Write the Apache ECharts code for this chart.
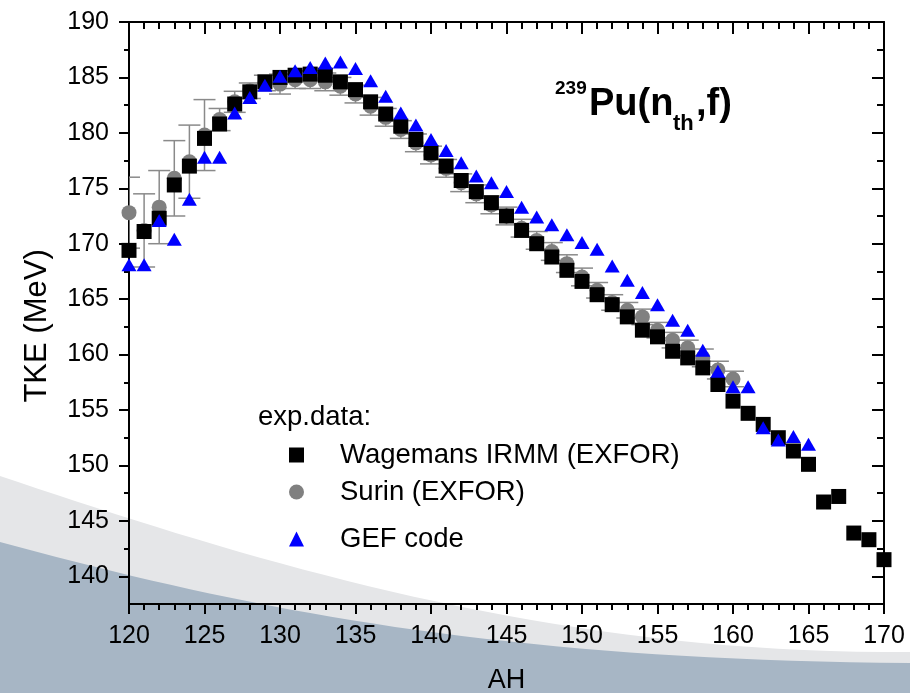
<!DOCTYPE html>
<html>
<head>
<meta charset="utf-8">
<script src="https://cdn.jsdelivr.net/npm/echarts@6/dist/echarts.min.js"></script>
<style>
html,body{margin:0;padding:0;background:#ffffff;}
#c{width:910px;height:693px;}
</style>
</head>
<body>
<div id="c"></div>
<script>
// ---- data ----
const AH = [120,121,122,123,124,125,126,127,128,129,130,131,132,133,134,135,136,137,138,139,140,
            141,142,143,144,145,146,147,148,149,150,151,152,153,154,155,156,157,158,159,160,
            161,162,163,164,165,166,167,168,169,170];

const wagemansTKE = [169.4,171.1,172.3,175.3,177.0,179.5,180.8,182.6,183.7,184.6,185.0,
                     185.2,185.3,185.2,184.6,183.9,182.8,181.7,180.6,179.4,178.2,
                     177.0,175.7,174.7,173.7,172.5,171.2,170.0,168.8,167.6,166.6,
                     165.4,164.5,163.4,162.2,161.6,160.3,159.7,158.8,157.3,155.8,
                     154.7,153.7,152.5,151.3,150.1,146.7,147.2,143.9,143.3,141.5];

const surinAH = [120,121,122,123,124,125,126,127,128,129,130,131,132,133,134,135,136,137,138,139,140,
                 141,142,143,144,145,146,147,148,149,150,151,152,153,154,155,156,157,158,159,160];
const surinTKE = [172.8,171.2,173.3,175.9,177.4,179.8,181.2,182.8,183.8,184.5,184.4,
                  184.8,184.8,184.6,184.2,183.5,182.4,181.4,180.3,179.1,178.0,
                  176.8,175.5,174.5,173.5,172.5,171.4,170.3,169.3,168.2,167.0,
                  165.8,164.7,164.0,163.4,162.2,161.3,160.6,159.7,158.6,157.8];
const surinErr = [3.2,3.3,3.3,3.4,3.3,3.2,1.0,0.95,0.7,0.7,0.9,
                  0.8,0.8,0.8,0.8,0.8,0.8,0.8,0.8,0.8,0.8,
                  0.8,0.8,0.8,0.8,0.8,0.8,0.8,0.8,0.8,0.8,
                  0.7,0.7,0.7,0.7,0.7,0.7,0.7,0.8,0.8,0.7];

const gefAH = [120,121,122,123,124,125,126,127,128,129,130,131,132,133,134,135,136,137,138,139,140,
               141,142,143,144,145,146,147,148,149,150,151,152,153,154,155,156,157,158,159,160,
               161,162,163,164,165];
const gefTKE = [168.1,168.1,172.1,170.4,174.0,177.8,177.8,181.8,183.2,184.3,185.1,
                185.6,185.9,186.3,186.4,185.8,184.7,183.3,181.8,180.7,179.4,
                178.4,177.3,176.1,175.5,174.7,173.3,172.4,171.7,170.8,170.1,
                169.5,168.0,166.7,165.6,164.5,163.1,162.2,160.4,158.5,157.1,
                157.1,153.4,152.3,152.6,151.9];

const xMin = 120, xMax = 170, xStep = 5;
const yMin = 137.5, yMax = 190;
const yMajorTicks = [140,145,150,155,160,165,170,175,180,185,190];
const yMinorTicks = [142.5,147.5,152.5,157.5,162.5,167.5,172.5,177.5,182.5,187.5];

const names = ['Wagemans IRMM (EXFOR)', 'Surin (EXFOR)', 'GEF code'];

// ---- decoration helper (background swoosh) ----
function bezierBand(p0, c1, c2, p3, W, H) {
  const pts = [];
  for (let k = 0; k <= 40; k++) {
    const t = k / 40, u = 1 - t;
    pts.push([
      u*u*u*p0[0] + 3*u*u*t*c1[0] + 3*u*t*t*c2[0] + t*t*t*p3[0],
      u*u*u*p0[1] + 3*u*u*t*c1[1] + 3*u*t*t*c2[1] + t*t*t*p3[1]
    ]);
  }
  pts.push([W, H]);
  pts.push([0, H]);
  return pts;
}

// ---- chart ----
const chart = echarts.init(document.getElementById('c'), null, {renderer: 'canvas'});
const FONT = 'Liberation Sans, Arial, sans-serif';

const wagemansData = AH.map((a, i) => [a, wagemansTKE[i]]);
const surinData = surinAH.map((a, i) => [a, surinTKE[i]]);
const surinErrData = surinAH.map((a, i) => [a, surinTKE[i] - surinErr[i], surinTKE[i] + surinErr[i]]);
const gefData = gefAH.map((a, i) => [a, gefTKE[i]]);

const axisLine = {show: true, lineStyle: {color: '#000', width: 2}};
const yCommon = {type: 'value', min: yMin, max: yMax, splitLine: {show: false}};
const xCommon = {type: 'value', min: xMin, max: xMax, interval: xStep, splitLine: {show: false}};

const legendCommon = {
  orient: 'horizontal', padding: 0, itemWidth: 15, itemHeight: 15,
  textStyle: {fontSize: 27.5, color: '#000', fontFamily: FONT,
              rich: {g: {width: 31}}},
  formatter: function (n) { return '{g| }' + n; },
  selectedMode: false
};

const option = {
  backgroundColor: '#ffffff',
  animation: false,
  grid: {left: 129, right: 26, top: 22, bottom: 89, containLabel: false, outerBoundsMode: 'none'},
  graphic: [
    {type: 'polygon', z: -20, silent: true,
     shape: {points: bezierBand([0, 476], [250, 560], [550, 655], [910, 652], 910, 693)},
     style: {fill: '#e5e6e8'}},
    {type: 'polygon', z: -19, silent: true,
     shape: {points: bezierBand([0, 542], [250, 610], [500, 660], [910, 663], 910, 693)},
     style: {fill: '#a7b6c5'}},
    {type: 'text', left: 258, top: 403, z: 10,
     style: {text: 'exp.data:', fill: '#000', font: '27.5px ' + FONT}},
    {type: 'text', x: 555, y: 89, z: 10,
     style: {text: '239', fill: '#000', font: 'bold 19px ' + FONT, verticalAlign: 'middle', align: 'left'}},
    {type: 'text', x: 589, y: 105, z: 10,
     style: {text: 'Pu(n', fill: '#000', font: 'bold 38px ' + FONT, verticalAlign: 'middle', align: 'left'}},
    {type: 'text', x: 673, y: 124, z: 10,
     style: {text: 'th', fill: '#000', font: 'bold 22px ' + FONT, verticalAlign: 'middle', align: 'left'}},
    {type: 'text', x: 696, y: 105, z: 10,
     style: {text: ',f)', fill: '#000', font: 'bold 38px ' + FONT, verticalAlign: 'middle', align: 'left'}}
  ],
  legend: [
    Object.assign({}, legendCommon, {data: [names[0]], left: 289, top: 441}),
    Object.assign({}, legendCommon, {data: [names[1]], left: 289, top: 478}),
    Object.assign({}, legendCommon, {data: [names[2]], left: 289, top: 525})
  ],
  xAxis: [
    Object.assign({}, xCommon, {
      position: 'bottom',
      axisLine: axisLine,
      axisTick: {show: true, length: 10, lineStyle: {color: '#000', width: 2}},
      minorTick: {show: true, splitNumber: 5, length: 6, lineStyle: {color: '#000', width: 2}},
      axisLabel: {fontSize: 25, color: '#000', fontFamily: FONT, margin: 20},
      name: 'AH', nameLocation: 'middle', nameGap: 63,
      nameTextStyle: {fontSize: 27, color: '#000', fontFamily: FONT}
    }),
    Object.assign({}, xCommon, {
      position: 'top',
      axisLine: axisLine,
      axisTick: {show: true, inside: true, length: 12, lineStyle: {color: '#000', width: 2}},
      minorTick: {show: true, splitNumber: 5, length: 7, lineStyle: {color: '#000', width: 2}},
      axisLabel: {show: false}
    })
  ],
  yAxis: [
    Object.assign({}, yCommon, {
      position: 'left',
      axisLine: axisLine,
      axisTick: {show: true, length: 10, customValues: yMajorTicks, lineStyle: {color: '#000', width: 2}},
      axisLabel: {fontSize: 25, color: '#000', fontFamily: FONT, margin: 20, customValues: yMajorTicks},
      name: 'TKE (MeV)\u00a0\u00a0\u00a0', nameLocation: 'middle', nameGap: 76, nameRotate: 90,
      nameTextStyle: {fontSize: 31, color: '#000', fontFamily: FONT}
    }),
    Object.assign({}, yCommon, {
      position: 'left',
      axisLine: {show: false},
      axisTick: {show: true, length: 5, customValues: yMinorTicks, lineStyle: {color: '#000', width: 2}},
      axisLabel: {show: false}
    }),
    Object.assign({}, yCommon, {
      position: 'right',
      axisLine: axisLine,
      axisTick: {show: true, inside: true, length: 12, customValues: yMajorTicks, lineStyle: {color: '#000', width: 2}},
      axisLabel: {show: false}
    }),
    Object.assign({}, yCommon, {
      position: 'right',
      axisLine: {show: false},
      axisTick: {show: true, inside: true, length: 7, customValues: yMinorTicks, lineStyle: {color: '#000', width: 2}},
      axisLabel: {show: false}
    })
  ],
  series: [
    {
      type: 'custom', name: 'Surin errors', xAxisIndex: 0, yAxisIndex: 0, z: 1, clip: true,
      data: surinErrData,
      encode: {x: 0, y: [1, 2]},
      renderItem: function (params, api) {
        const x = api.value(0), lo = api.value(1), hi = api.value(2);
        const pLo = api.coord([x, lo]);
        const pHi = api.coord([x, hi]);
        const hw = 11;
        const st = {stroke: '#8a8a8a', lineWidth: 1.5, fill: null};
        return {
          type: 'group',
          children: [
            {type: 'line', shape: {x1: pLo[0], y1: pLo[1], x2: pHi[0], y2: pHi[1]}, style: st},
            {type: 'line', shape: {x1: pLo[0] - hw, y1: pLo[1], x2: pLo[0] + hw, y2: pLo[1]}, style: st},
            {type: 'line', shape: {x1: pHi[0] - hw, y1: pHi[1], x2: pHi[0] + hw, y2: pHi[1]}, style: st}
          ]
        };
      }
    },
    {
      type: 'scatter', name: names[1], xAxisIndex: 0, yAxisIndex: 0, z: 2,
      symbol: 'circle', symbolSize: 15,
      itemStyle: {color: '#808080', opacity: 1},
      data: surinData
    },
    {
      type: 'scatter', name: names[0], xAxisIndex: 0, yAxisIndex: 0, z: 3,
      symbol: 'rect', symbolSize: 15,
      itemStyle: {color: '#000000', opacity: 1},
      data: wagemansData
    },
    {
      type: 'scatter', name: names[2], xAxisIndex: 0, yAxisIndex: 0, z: 4,
      symbol: 'triangle', symbolSize: [15, 13],
      itemStyle: {color: '#0000ff', opacity: 1},
      data: gefData
    }
  ]
};
chart.setOption(option);
</script>
</body>
</html>
